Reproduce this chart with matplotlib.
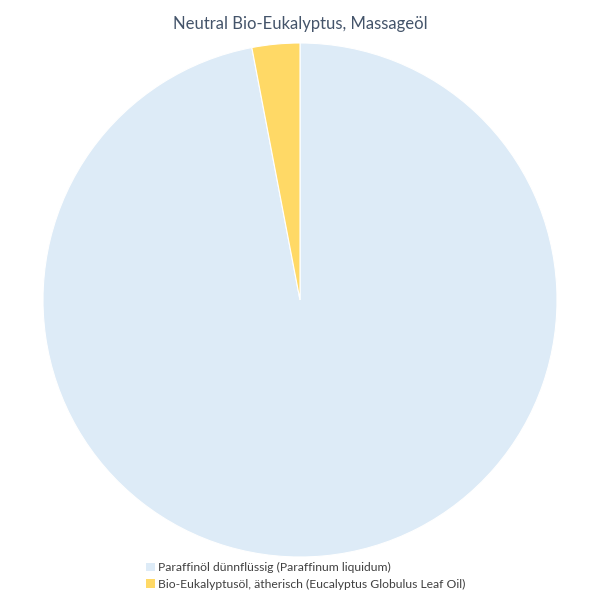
import matplotlib
matplotlib.use("Agg")
import matplotlib.pyplot as plt
from matplotlib.patches import Patch

plt.rcParams['font.family'] = ['Lato', 'DejaVu Sans']

title = "Neutral Bio-Eukalyptus, Massageöl"
labels = ["Paraffinöl dünnflüssig (Paraffinum liquidum)",
          "Bio-Eukalyptusöl, ätherisch (Eucalyptus Globulus Leaf Oil)"]
values = [97, 3]
colors = ["#DDEBF7", "#FFD966"]

fig = plt.figure(figsize=(6, 6), dpi=100)
ax = fig.add_axes([43 / 600, 43 / 600, 514 / 600, 514 / 600])
ax.pie(values, colors=colors, startangle=90, counterclock=False,
       wedgeprops=dict(edgecolor="white", linewidth=0.8))
ax.set_aspect("equal")
ax.set_xlim(-1, 1)
ax.set_ylim(-1, 1)

fig.text(0.5, 1 - 24 / 600, title, ha="center", va="center",
         fontsize=12, color="#44546A")

handles = [Patch(facecolor=c, edgecolor="none") for c in colors]
fig.legend(handles, labels, loc="center left", bbox_to_anchor=(140 / 600, 1 - 576 / 600),
           frameon=False, fontsize=8.7, labelcolor="#404040",
           handlelength=0.7, handleheight=0.7, handletextpad=0.3,
           labelspacing=0.45, borderpad=0)

fig.savefig("out.png", dpi=100, facecolor="white")
